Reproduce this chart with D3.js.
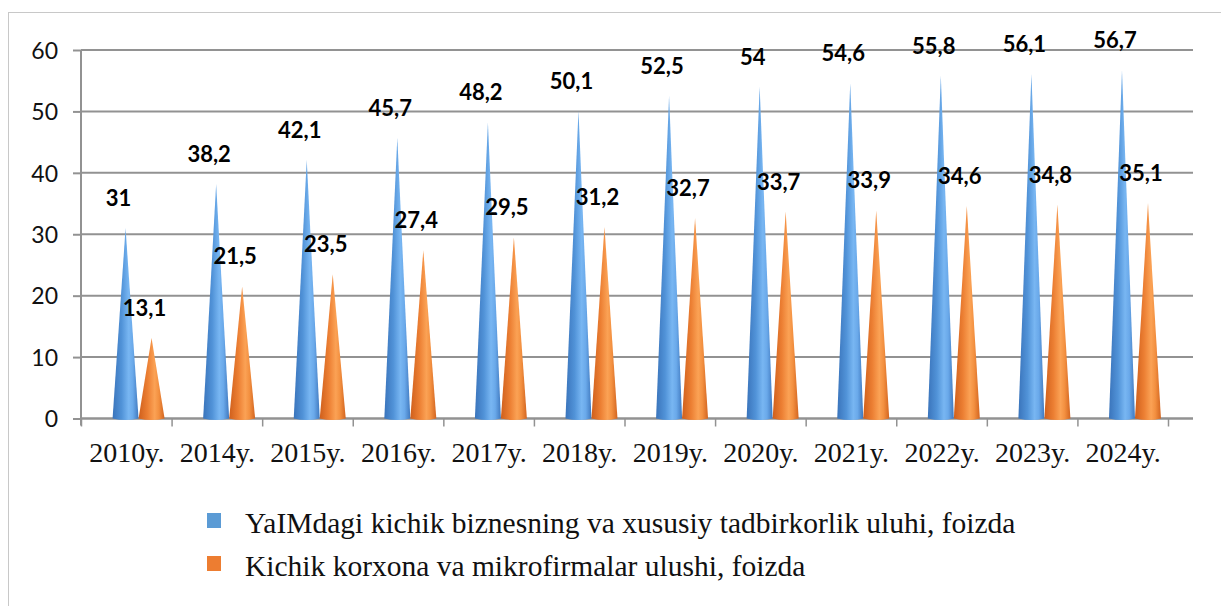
<!DOCTYPE html>
<html><head><meta charset="utf-8">
<script src="https://cdn.jsdelivr.net/npm/d3@7"></script>
</head><body style="margin:0">
<svg id="c" width="1221" height="606"></svg>
<script>
const categories = ["2010y.","2014y.","2015y.","2016y.","2017y.","2018y.","2019y.","2020y.","2021y.","2022y.","2023y.","2024y."];
const seriesNames = ["YaIMdagi kichik biznesning va xususiy tadbirkorlik uluhi, foizda","Kichik korxona va mikrofirmalar ulushi, foizda"];
const gdpShare = [31,38.2,42.1,45.7,48.2,50.1,52.5,54,54.6,55.8,56.1,56.7];
const firmShare = [13.1,21.5,23.5,27.4,29.5,31.2,32.7,33.7,33.9,34.6,34.8,35.1];
const yTicks = [0,10,20,30,40,50,60];

const svg = d3.select("#c");
const defs = svg.append("defs");
function grad(id, stops){
  const g = defs.append("linearGradient").attr("id",id).attr("x1","0").attr("x2","1").attr("y1","0").attr("y2","0");
  stops.forEach(s=>g.append("stop").attr("offset",s[0]).attr("stop-color",s[1]));
}
grad("gBlue",[[0,"#3a74bb"],[0.35,"#5193d8"],[0.62,"#78b6f2"],[0.78,"#6aa9ea"],[1,"#3f78be"]]);
grad("gOrange",[[0,"#cf5f1c"],[0.35,"#ec7f33"],[0.62,"#fba255"],[0.78,"#f39040"],[1,"#d2641f"]]);
const fills = ["url(#gBlue)","url(#gOrange)"];

// outer frame
svg.append("rect").attr("x",8.5).attr("y",12.5).attr("width",1400).attr("height",800)
  .attr("fill","none").attr("stroke","#c8c8c8").attr("stroke-width",1);

const x0 = d3.scaleBand().domain(categories).range([81.5,1168.5]).padding(0);
const bw = x0.bandwidth();
const x1 = d3.scaleBand().domain([0,1]).range([0.343*bw,0.917*bw]).padding(0);
const y = d3.scaleLinear().domain([0,60]).range([418.5,50]);
const gridRight = 1193;

// grid
svg.append("g").selectAll("line").data(yTicks).join("line")
  .attr("x1",81).attr("x2",gridRight).attr("y1",d=>y(d)).attr("y2",d=>y(d))
  .attr("stroke","#929292").attr("stroke-width",2);

// y axis
const yAxis = svg.append("g").attr("transform","translate(81,0)")
  .call(d3.axisLeft(y).tickValues(yTicks).tickSize(8).tickPadding(15).tickFormat(d3.format("d")));
yAxis.attr("font-family","Lato").attr("font-size",23);
yAxis.select(".domain").attr("stroke","#929292").attr("stroke-width",2).attr("d",`M0,${y(60)}V${y(0)+7}`);
yAxis.selectAll(".tick line").attr("stroke","#929292").attr("stroke-width",2);
yAxis.selectAll(".tick text").attr("fill","#111").attr("dy","0.36em");

// x axis
const xAxis = svg.append("g").attr("transform",`translate(0,${y(0)})`)
  .call(d3.axisBottom(x0).tickSize(0).tickPadding(24));
xAxis.attr("font-family","Liberation Serif").attr("font-size",28);
xAxis.select(".domain").attr("stroke","#929292").attr("stroke-width",2).attr("d",`M81,0H${gridRight}`);
xAxis.selectAll(".tick text").attr("fill","#111");
const bounds = categories.map(c=>x0(c)).concat([x0(categories[categories.length-1])+bw]);
svg.append("g").selectAll("line").data(bounds).join("line")
  .attr("x1",d=>d).attr("x2",d=>d).attr("y1",y(0)).attr("y2",y(0)+8)
  .attr("stroke","#929292").attr("stroke-width",1.5);

// cones
const series = [gdpShare, firmShare];
const gCones = svg.append("g");
series.forEach((vals,si)=>{
  gCones.selectAll(null).data(vals).join("path")
    .attr("d",(v,i)=>{
      const l = x0(categories[i]) + x1(si), w = x1.bandwidth(), cx = l + w/2;
      const b = y(0), t = y(v);
      return `M${l},${b} L${cx},${t} L${l+w},${b} Q${cx},${b+3} ${l},${b} Z`;
    })
    .attr("fill",fills[si]);
});

// labels
series.forEach((vals,si)=>{
  svg.append("g").attr("font-family","Lato").attr("font-weight","bold").attr("font-size",22)
    .selectAll("text").data(vals).join("text")
    .attr("x",(v,i)=>x0(categories[i]) + x1(si) + x1.bandwidth()/2 - 7)
    .attr("y",v=>y(v)-22)
    .attr("text-anchor","middle")
    .attr("fill","#000")
    .text(v=>String(v).replace(".",","));
});

// legend
const legColors = ["#5b9bd5","#ed7d31"];
const leg = svg.append("g").attr("font-family","Liberation Serif").attr("font-size",29.5);
seriesNames.forEach((n,i)=>{
  const yy = 533 + i*43;
  leg.append("rect").attr("x",207).attr("y",yy-20).attr("width",14).attr("height",15).attr("fill",legColors[i]);
  leg.append("text").attr("x",245).attr("y",yy).attr("fill","#111").text(n);
});
</script>
</body></html>
